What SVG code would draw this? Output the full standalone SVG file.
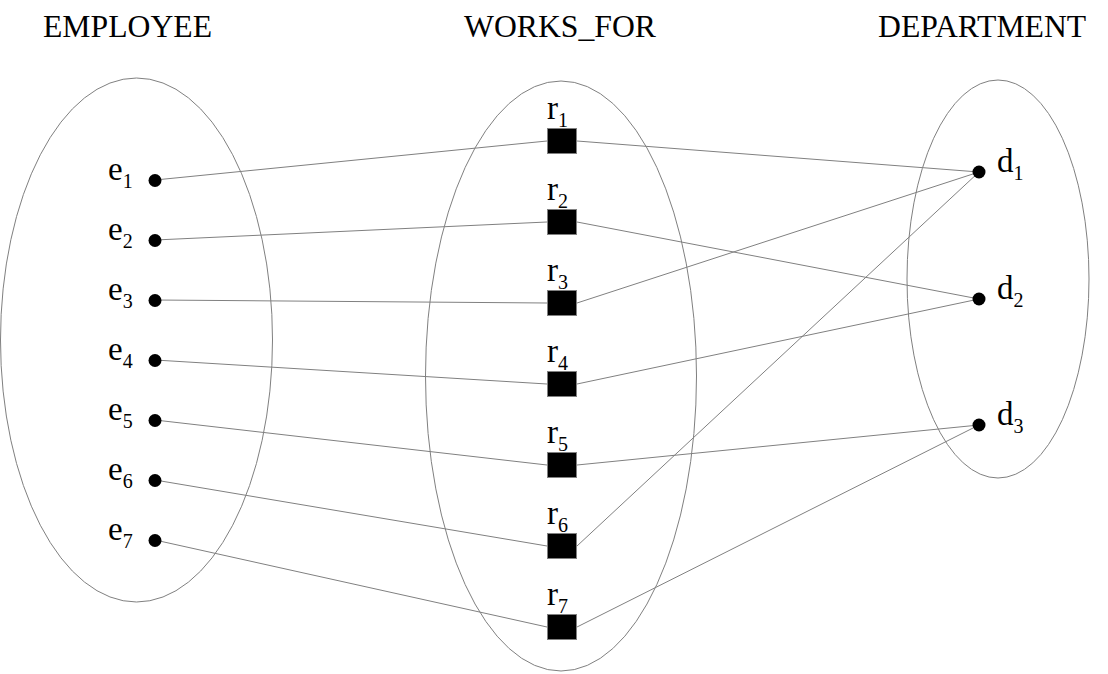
<svg xmlns="http://www.w3.org/2000/svg" width="1108" height="674" viewBox="0 0 1108 674">
<style>
.set{fill:none;stroke:#808080;stroke-width:1}
.ln{stroke:#808080;stroke-width:1;fill:none}
.t{font-family:"Liberation Serif","Times New Roman",serif;fill:#000}
.h{font-size:31.7px}
.m{font-size:33px}
.s{font-size:20px}
.dot{fill:#000}
.sq{fill:#000;stroke:#808080;stroke-width:1}
</style>
<rect width="1108" height="674" fill="#fff"/>
<g id="titles">
<text class="t h" x="43" y="37">EMPLOYEE</text>
<text class="t h" x="464" y="37">WORKS_FOR</text>
<text class="t h" x="878" y="37">DEPARTMENT</text>
</g>
<g id="sets">
<ellipse class="set" cx="136.5" cy="340" rx="136" ry="262"/>
<ellipse class="set" cx="561" cy="376" rx="135.5" ry="295"/>
<ellipse class="set" cx="998" cy="279" rx="91" ry="199"/>
</g>
<g id="connectors">
<line class="ln" x1="155" y1="180" x2="547" y2="141"/>
<line class="ln" x1="155" y1="240" x2="547" y2="222"/>
<line class="ln" x1="155" y1="300" x2="547" y2="303"/>
<line class="ln" x1="155" y1="360" x2="547" y2="384"/>
<line class="ln" x1="155" y1="420" x2="547" y2="465"/>
<line class="ln" x1="155" y1="480" x2="547" y2="546"/>
<line class="ln" x1="155" y1="540" x2="547" y2="627"/>
<line class="ln" x1="577" y1="141" x2="979" y2="172"/>
<line class="ln" x1="577" y1="222" x2="979" y2="299"/>
<line class="ln" x1="577" y1="303" x2="979" y2="172"/>
<line class="ln" x1="577" y1="384" x2="979" y2="299"/>
<line class="ln" x1="577" y1="465" x2="979" y2="425"/>
<line class="ln" x1="577" y1="546" x2="979" y2="172"/>
<line class="ln" x1="577" y1="627" x2="979" y2="425"/>
</g>
<g id="e1"><circle class="dot" cx="155" cy="180.5" r="6.5"/><text class="t m" x="108" y="180">e<tspan class="s" dy="8">1</tspan></text></g>
<g id="e2"><circle class="dot" cx="155" cy="240.5" r="6.5"/><text class="t m" x="108" y="240">e<tspan class="s" dy="8">2</tspan></text></g>
<g id="e3"><circle class="dot" cx="155" cy="300.5" r="6.5"/><text class="t m" x="108" y="300">e<tspan class="s" dy="8">3</tspan></text></g>
<g id="e4"><circle class="dot" cx="155" cy="360.5" r="6.5"/><text class="t m" x="108" y="360">e<tspan class="s" dy="8">4</tspan></text></g>
<g id="e5"><circle class="dot" cx="155" cy="420.5" r="6.5"/><text class="t m" x="108" y="420">e<tspan class="s" dy="8">5</tspan></text></g>
<g id="e6"><circle class="dot" cx="155" cy="480.5" r="6.5"/><text class="t m" x="108" y="480">e<tspan class="s" dy="8">6</tspan></text></g>
<g id="e7"><circle class="dot" cx="155" cy="540.5" r="6.5"/><text class="t m" x="108" y="540">e<tspan class="s" dy="8">7</tspan></text></g>
<g id="r1"><rect class="sq" x="547.5" y="128.5" width="29" height="25"/><text class="t m" x="547" y="119">r<tspan class="s" dy="8">1</tspan></text></g>
<g id="r2"><rect class="sq" x="547.5" y="209.5" width="29" height="25"/><text class="t m" x="547" y="200">r<tspan class="s" dy="8">2</tspan></text></g>
<g id="r3"><rect class="sq" x="547.5" y="290.5" width="29" height="25"/><text class="t m" x="547" y="281">r<tspan class="s" dy="8">3</tspan></text></g>
<g id="r4"><rect class="sq" x="547.5" y="371.5" width="29" height="25"/><text class="t m" x="547" y="362">r<tspan class="s" dy="8">4</tspan></text></g>
<g id="r5"><rect class="sq" x="547.5" y="452.5" width="29" height="25"/><text class="t m" x="547" y="443">r<tspan class="s" dy="8">5</tspan></text></g>
<g id="r6"><rect class="sq" x="547.5" y="533.5" width="29" height="25"/><text class="t m" x="547" y="524">r<tspan class="s" dy="8">6</tspan></text></g>
<g id="r7"><rect class="sq" x="547.5" y="614.5" width="29" height="25"/><text class="t m" x="547" y="605">r<tspan class="s" dy="8">7</tspan></text></g>
<g id="d1"><circle class="dot" cx="979" cy="172" r="6.5"/><text class="t m" x="997" y="172">d<tspan class="s" dy="8">1</tspan></text></g>
<g id="d2"><circle class="dot" cx="979" cy="299" r="6.5"/><text class="t m" x="997" y="299">d<tspan class="s" dy="8">2</tspan></text></g>
<g id="d3"><circle class="dot" cx="979" cy="425" r="6.5"/><text class="t m" x="997" y="425">d<tspan class="s" dy="8">3</tspan></text></g>
</svg>
